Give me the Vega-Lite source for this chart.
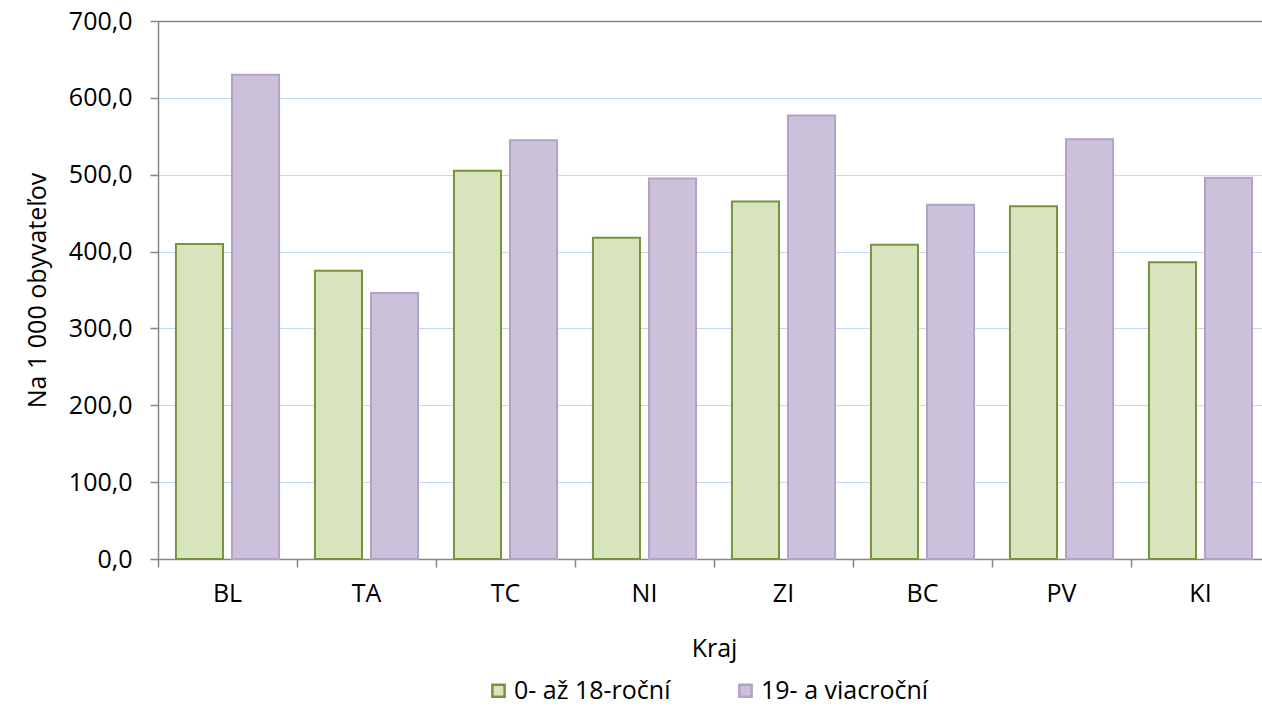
{
  "$schema": "https://vega.github.io/schema/vega-lite/v6.json",
  "autosize": "none",
  "width": 1104,
  "height": 538,
  "padding": {"left": 158, "top": 21, "right": 0, "bottom": 147},
  "background": "white",
  "config": {
    "font": "Open Sans",
    "view": {"stroke": null}
  },
  "data": {
    "values": [
      {"kraj": "BL", "skupina": "0- až 18-roční", "hodnota": 410},
      {"kraj": "BL", "skupina": "19- a viacroční", "hodnota": 630},
      {"kraj": "TA", "skupina": "0- až 18-roční", "hodnota": 375},
      {"kraj": "TA", "skupina": "19- a viacroční", "hodnota": 346},
      {"kraj": "TC", "skupina": "0- až 18-roční", "hodnota": 505},
      {"kraj": "TC", "skupina": "19- a viacroční", "hodnota": 545},
      {"kraj": "NI", "skupina": "0- až 18-roční", "hodnota": 418},
      {"kraj": "NI", "skupina": "19- a viacroční", "hodnota": 495},
      {"kraj": "ZI", "skupina": "0- až 18-roční", "hodnota": 465},
      {"kraj": "ZI", "skupina": "19- a viacroční", "hodnota": 577},
      {"kraj": "BC", "skupina": "0- až 18-roční", "hodnota": 409},
      {"kraj": "BC", "skupina": "19- a viacroční", "hodnota": 461},
      {"kraj": "PV", "skupina": "0- až 18-roční", "hodnota": 459},
      {"kraj": "PV", "skupina": "19- a viacroční", "hodnota": 546},
      {"kraj": "KI", "skupina": "0- až 18-roční", "hodnota": 386},
      {"kraj": "KI", "skupina": "19- a viacroční", "hodnota": 496}
    ]
  },
  "mark": {"type": "bar", "strokeWidth": 2},
  "encoding": {
    "x": {
      "field": "kraj",
      "type": "nominal",
      "sort": ["BL", "TA", "TC", "NI", "ZI", "BC", "PV", "KI"],
      "scale": {"paddingInner": 0, "paddingOuter": 0, "range": [0, 1112]},
      "axis": {
        "title": "Kraj",
        "labelAngle": 0,
        "bandPosition": 0,
        "labelFontSize": 25,
        "titleFontSize": 25,
        "titleFontWeight": "normal",
        "labelColor": "#000000",
        "titleColor": "#000000",
        "domainColor": "#868686",
        "domainWidth": 1.5,
        "tickColor": "#868686",
        "tickWidth": 1.5,
        "tickSize": 8,
        "labelPadding": 14,
        "titlePadding": 30,
        "grid": false
      }
    },
    "xOffset": {
      "field": "skupina",
      "type": "nominal",
      "scale": {"paddingInner": 0.16, "paddingOuter": 0.32}
    },
    "y": {
      "field": "hodnota",
      "type": "quantitative",
      "scale": {"domain": [0, 700], "nice": false},
      "axis": {
        "title": "Na 1 000 obyvateľov",
        "values": [0, 100, 200, 300, 400, 500, 600, 700],
        "labelExpr": "replace(format(datum.value, '.1f'), '.', ',')",
        "labelFontSize": 25,
        "titleFontSize": 25,
        "titleFontWeight": "normal",
        "labelColor": "#000000",
        "titleColor": "#000000",
        "domainColor": "#868686",
        "domainWidth": 1.5,
        "tickColor": "#868686",
        "tickWidth": 1.5,
        "tickSize": 8,
        "labelPadding": 18,
        "titlePadding": 18,
        "gridColor": {"condition": {"test": "datum.value === 700", "value": "#868686"}, "value": "#c6d9f1"},
        "gridWidth": {"condition": {"test": "datum.value === 700", "value": 1.5}, "value": 1.2}
      }
    },
    "fill": {
      "field": "skupina",
      "type": "nominal",
      "scale": {"domain": ["0- až 18-roční", "19- a viacroční"], "range": ["#d7e4bd", "#ccc1da"]},
      "legend": {
        "title": null,
        "orient": "none",
        "legendX": 328,
        "legendY": 657,
        "direction": "horizontal",
        "labelFontSize": 25,
        "labelColor": "#000000",
        "labelLimit": 400,
        "labelOffset": 3,
        "symbolType": "square",
        "symbolSize": 150,
        "symbolStrokeWidth": 2.5,
        "columnPadding": 62
      }
    },
    "stroke": {
      "field": "skupina",
      "type": "nominal",
      "scale": {"domain": ["0- až 18-roční", "19- a viacroční"], "range": ["#77933c", "#b3a2c7"]},
      "legend": null
    }
  }
}
